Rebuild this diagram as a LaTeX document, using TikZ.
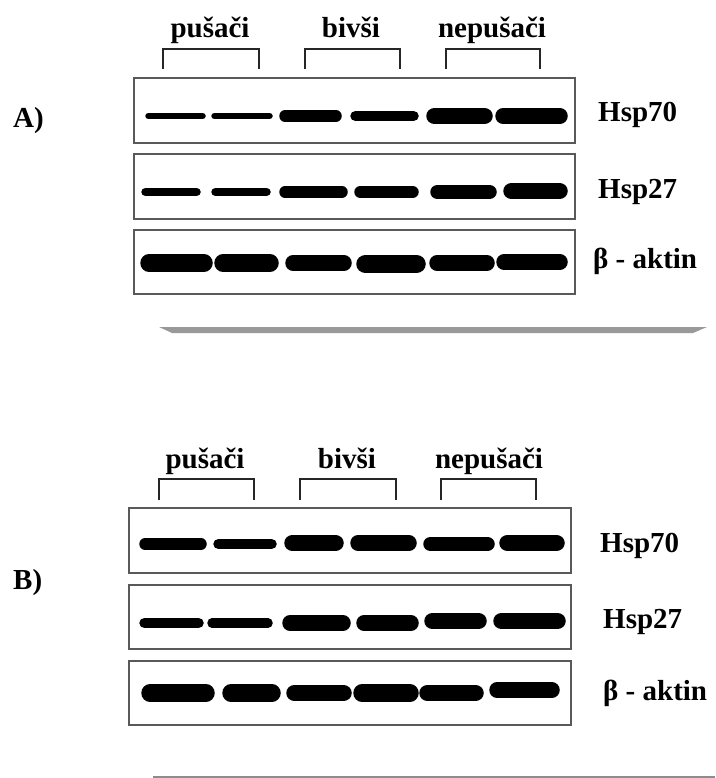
\documentclass[tikz,border=0pt]{standalone}
\usepackage{fontspec}
\setmainfont{Liberation Serif}
\newcommand{\Band}[4]{\draw[band, line width=#4pt+1.5pt] ({#1+#4/2},#3) -- ({#2-#4/2},#3);}
\newcommand{\Bracket}[4]{\draw[brk] (#1,#4) |- (#2,#3) -- (#2,#4);}
\tikzset{
  blot/.style={draw=black!65, line width=2.4pt},
  band/.style={black, line cap=round},
  brk/.style={black!85, line width=1.8pt},
  lbl/.style={font=\fontsize{29}{34}\selectfont\bfseries, inner sep=0pt}
}

\begin{document}
\begin{tikzpicture}[x=1pt, y=-1pt]
\useasboundingbox (0,0) rectangle (715,778);

% panel A
\draw(13,128) node[lbl, anchor=base west] (panelA) {A)};
\draw(210,38) node[lbl, anchor=base] (pusA) {pušači};
\draw(351,38) node[lbl, anchor=base] (bivA) {bivši};
\draw(492,38) node[lbl, anchor=base] (nepA) {nepušači};
\Bracket{163}{259}{49}{69}
\Bracket{305}{400}{49}{69}
\Bracket{446}{540}{49}{69}

\draw[blot] (134,78) rectangle (575,143);
\draw[blot] (134,154) rectangle (575,219);
\draw[blot] (134,230) rectangle (575,294);

\foreach \xa/\xb/\yy/\t in {146/205/116/5, 212/272/116/5, 280/341/116/10,
  351/418/116/9, 427/492/116/15, 496/567/116/14}
  {\Band{\xa}{\xb}{\yy}{\t}}
\foreach \xa/\xb/\yy/\t in {142/200/192/7, 212/270/192/7, 280/347/192/10,
  355/418/192/11, 431/496/192/13, 504/567/191/15}
  {\Band{\xa}{\xb}{\yy}{\t}}
\foreach \xa/\xb/\yy/\t in {141/212/263/16, 215/278/263/16, 286/351/263/14,
  357/425/264/17, 430/494/263/14, 497/567/262/14}
  {\Band{\xa}{\xb}{\yy}{\t}}

\draw(598,122) node[lbl, anchor=base west] (hspA) {Hsp70};
\draw(598,198) node[lbl, anchor=base west] (hsqA) {Hsp27};
\draw(593,268) node[lbl, anchor=base west] (aktA) {β - aktin};

\fill[black!40] (159,327) -- (707,327) -- (693,333) -- (172,333) -- cycle;

% panel B
\draw(13,589) node[lbl, anchor=base west] (panelB) {B)};
\draw(205,468) node[lbl, anchor=base] (pusB) {pušači};
\draw(347,468) node[lbl, anchor=base] (bivB) {bivši};
\draw(489,468) node[lbl, anchor=base] (nepB) {nepušači};
\Bracket{159}{254}{479}{500}
\Bracket{300}{396}{479}{500}
\Bracket{441}{536}{479}{500}

\draw[blot] (129,508) rectangle (571,573);
\draw[blot] (129,585) rectangle (571,649);
\draw[blot] (129,661) rectangle (571,725);

\foreach \xa/\xb/\yy/\t in {140/206/544/10, 214/276/544/9, 285/343/543/15,
  351/416/543/14, 424/494/544/13, 500/564/543/15}
  {\Band{\xa}{\xb}{\yy}{\t}}
\foreach \xa/\xb/\yy/\t in {140/203/623/9, 208/272/623/8, 283/350/623/14,
  357/418/623/14, 425/486/621/15, 494/565/621/15}
  {\Band{\xa}{\xb}{\yy}{\t}}
\foreach \xa/\xb/\yy/\t in {142/214/693/16, 223/280/693/16, 287/351/693/15,
  354/418/693/16, 420/483/693/15, 490/559/690/14}
  {\Band{\xa}{\xb}{\yy}{\t}}

\draw(600,552) node[lbl, anchor=base west] (hspB) {Hsp70};
\draw(603,628) node[lbl, anchor=base west] (hsqB) {Hsp27};
\draw(603,700) node[lbl, anchor=base west] (aktB) {β - aktin};

\draw[black!45, line width=1.6pt] (153,777) -- (715,777);

\end{tikzpicture}
\end{document}
